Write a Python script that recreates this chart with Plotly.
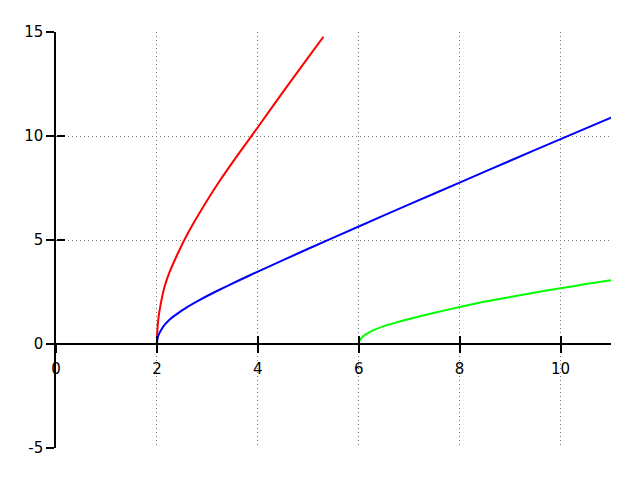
import plotly.graph_objects as go

# Data
red_x = [2.0, 2.01, 2.03, 2.06, 2.1, 2.16, 2.25, 2.4, 2.6, 2.85, 3.2, 3.6, 4.0, 4.5, 5.0, 5.3]
red_y = [0.0, 0.69, 1.23, 1.71, 2.22, 2.82, 3.45, 4.28, 5.26, 6.32, 7.68, 9.08, 10.42, 12.12, 13.78, 14.77]

blue_x = [2.0, 2.01, 2.03, 2.06, 2.1, 2.16, 2.25, 2.4, 2.6, 2.85, 3.2, 3.6, 4.0, 4.5, 5.0, 6.0, 7.0, 8.0, 9.0, 10.0, 11.0]
blue_y = [0.0, 0.23, 0.41, 0.57, 0.74, 0.94, 1.17, 1.45, 1.77, 2.12, 2.56, 3.03, 3.48, 4.03, 4.58, 5.65, 6.71, 7.76, 8.81, 9.85, 10.88]

green_x = [6.0, 6.01, 6.03, 6.07, 6.12, 6.2, 6.32, 6.5, 6.75, 7.0, 7.5, 8.0, 8.5, 9.0, 9.5, 10.0, 10.5, 11.0]
green_y = [0.0, 0.13, 0.22, 0.33, 0.43, 0.55, 0.69, 0.86, 1.04, 1.2, 1.5, 1.78, 2.04, 2.26, 2.48, 2.68, 2.88, 3.07]

x_ticks = [0, 2, 4, 6, 8, 10]
x_tick_labels = ["0", "2", "4", "6", "8", "10"]
y_ticks = [-5, 0, 5, 10, 15]
y_tick_labels = ["-5", "0", "5", "10", "15"]

X_RANGE = [0, 11]
Y_RANGE = [-5, 15]

fig = go.Figure()
for xs, ys, col in [(red_x, red_y, "#ff0000"), (blue_x, blue_y, "#0000ff"), (green_x, green_y, "#00ff00")]:
    fig.add_trace(go.Scatter(x=xs, y=ys, mode="lines",
                             line=dict(color=col, width=2, shape="spline", smoothing=0.6),
                             showlegend=False, hoverinfo="skip"))

# dummy trace so the overlay axes (inner tick halves) are drawn
fig.add_trace(go.Scatter(x=[None], y=[None], xaxis="x2", yaxis="y2", showlegend=False,
                         hoverinfo="skip", mode="lines"))

x_pos = (0 - Y_RANGE[0]) / (Y_RANGE[1] - Y_RANGE[0])

common_font = dict(family="DejaVu Sans", size=15, color="black")
grid_style = dict(showgrid=True, gridcolor="#777777", griddash="1px,3px", gridwidth=1)

fig.update_layout(
    width=632, height=472,
    margin=dict(l=48, r=29, t=24, b=32),
    paper_bgcolor="white", plot_bgcolor="white",
    font=common_font,
    showlegend=False,
    xaxis=dict(range=X_RANGE, tickvals=x_ticks, ticktext=x_tick_labels,
               anchor="free", position=x_pos,
               showline=True, linecolor="black", linewidth=1.5,
               ticks="outside", ticklen=8, tickwidth=1.5, tickcolor="black",
               ticklabelstandoff=3,
               zeroline=False, tickfont=common_font, **grid_style),
    yaxis=dict(range=Y_RANGE, tickvals=y_ticks, ticktext=y_tick_labels,
               showline=True, linecolor="black", linewidth=1.5,
               ticks="outside", ticklen=8, tickwidth=1.5, tickcolor="black",
               zeroline=False, tickfont=common_font, **grid_style),
    xaxis2=dict(range=X_RANGE, tickvals=x_ticks, overlaying="x", anchor="free", position=x_pos,
                ticks="inside", ticklen=8, tickwidth=1.5, tickcolor="black",
                showticklabels=False, showgrid=False, showline=False, zeroline=False),
    yaxis2=dict(range=Y_RANGE, tickvals=y_ticks, overlaying="y", anchor="free", position=0,
                ticks="inside", ticklen=8, tickwidth=1.5, tickcolor="black",
                showticklabels=False, showgrid=False, showline=False, zeroline=False),
)

fig.write_html("out.html")
